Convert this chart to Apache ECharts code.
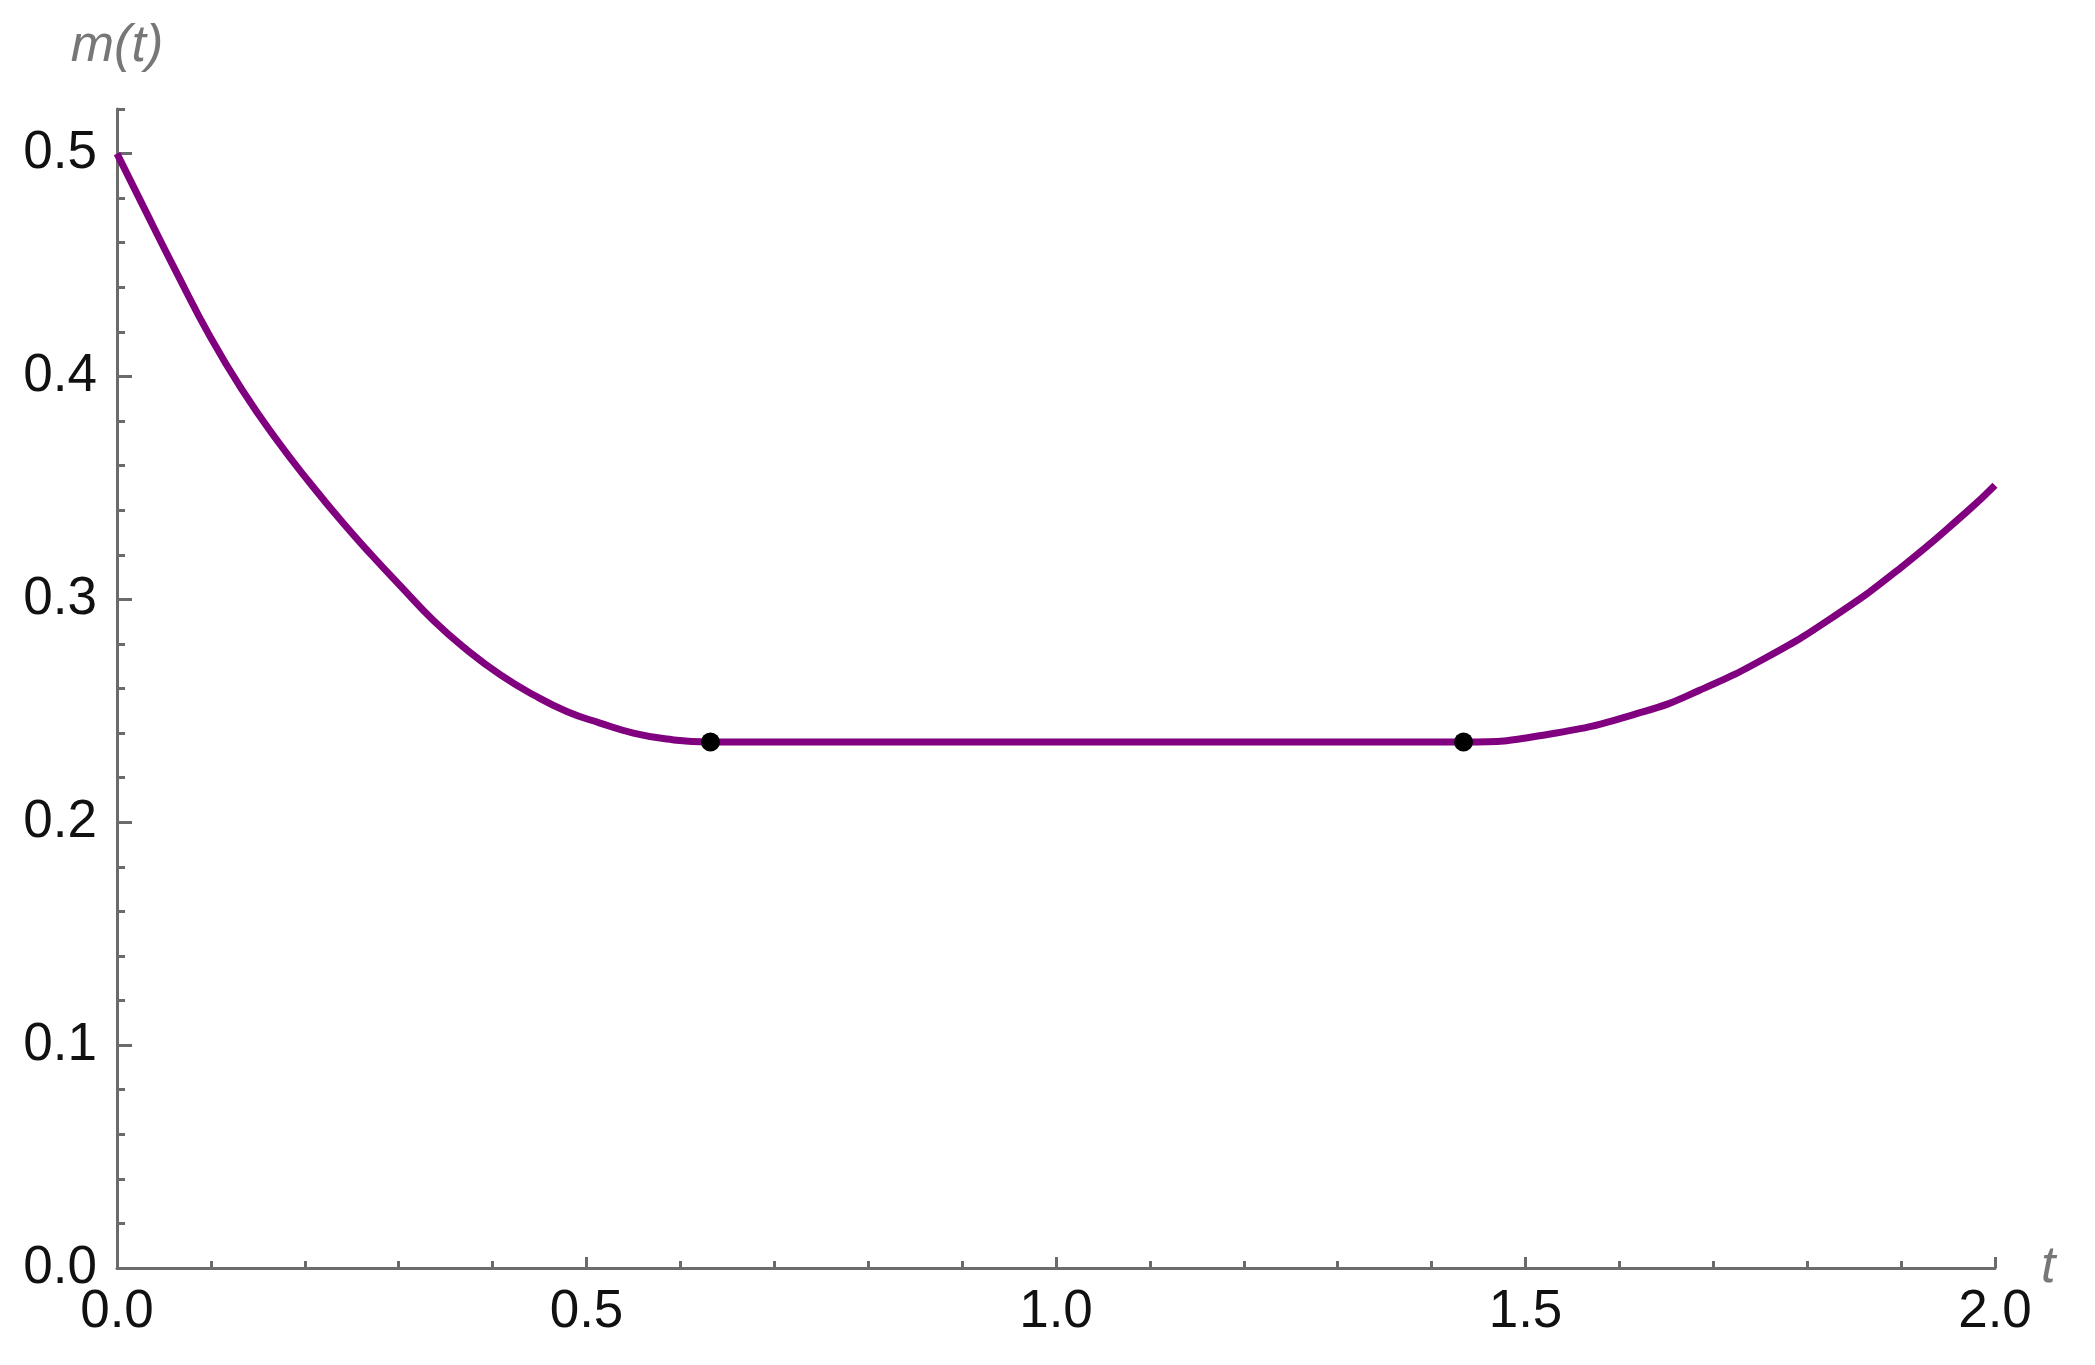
<!DOCTYPE html>
<html>
<head>
<meta charset="utf-8">
<script src="https://cdn.jsdelivr.net/npm/echarts@6/dist/echarts.min.js"></script>
<style>
  html, body { margin: 0; padding: 0; background: #fff; }
  #chart { width: 2095px; height: 1365px; }
</style>
</head>
<body>
<div id="chart"></div>
<script>
// curve m(t)
const tVals = [0, 0.028, 0.0636, 0.099, 0.1345, 0.17, 0.2055, 0.241, 0.273, 0.301, 0.337, 0.3724,
  0.408, 0.4433, 0.479, 0.5144, 0.55, 0.5854, 0.632, 0.7, 1.0, 1.36, 1.434,
  1.525, 1.625, 1.686, 1.757, 1.828, 1.899, 1.97, 2.0];
const mVals = [0.5, 0.4763, 0.4465, 0.418, 0.3932, 0.3716, 0.3522, 0.3341, 0.319, 0.3064, 0.2905, 0.2774,
  0.2662, 0.2572, 0.2497, 0.2445, 0.24, 0.2373, 0.236, 0.236, 0.236, 0.236, 0.236,
  0.2395, 0.2495, 0.2593, 0.274, 0.2922, 0.314, 0.3393, 0.3512];

// the two black points where the flat part starts and ends
const knotT = [0.632, 1.434];
const knotM = [0.236, 0.236];

// tick labels
const xTicks = [0, 0.5, 1.0, 1.5, 2.0];
const yTicks = [0, 0.1, 0.2, 0.3, 0.4, 0.5];

const xMinor = [];
for (let i = 0; i <= 20; i += 1) xMinor.push(+(i * 0.1).toFixed(2));
const yMinor = [];
for (let i = 0; i <= 26; i += 1) yMinor.push(+(i * 0.02).toFixed(2));

const axisGray = '#6b6b6b';
const font = 'Liberation Sans';

const chart = echarts.init(document.getElementById('chart'));

chart.setOption({
  animation: false,
  backgroundColor: '#fff',
  grid: { left: 117, right: 100, top: 109, bottom: 97 },
  xAxis: [
    {
      type: 'value',
      min: 0,
      max: 2,
      name: 't',
      nameLocation: 'end',
      nameGap: 46,
      nameTextStyle: { fontFamily: font, fontStyle: 'italic', fontSize: 52, color: '#777' },
      axisLine: { show: true, onZero: false, lineStyle: { color: axisGray, width: 3 } },
      axisTick: { show: true, inside: true, length: 11, customValues: xTicks, lineStyle: { color: axisGray, width: 3 } },
      axisLabel: {
        customValues: xTicks,
        margin: 18,
        fontFamily: font,
        fontSize: 53,
        color: '#111',
        formatter: (v) => v.toFixed(1),
      },
      splitLine: { show: false },
    },
    {
      // minor ticks only
      type: 'value',
      min: 0,
      max: 2,
      position: 'bottom',
      axisLine: { show: false },
      axisTick: { show: true, inside: true, length: 7, customValues: xMinor, lineStyle: { color: axisGray, width: 3 } },
      axisLabel: { show: false },
      splitLine: { show: false },
    },
  ],
  yAxis: [
    {
      type: 'value',
      min: 0,
      max: 0.52,
      name: 'm(t)',
      nameLocation: 'end',
      nameGap: 36,
      nameTextStyle: { fontFamily: font, fontStyle: 'italic', fontSize: 52, color: '#777', align: 'center' },
      axisLine: { show: true, onZero: false, lineStyle: { color: axisGray, width: 3 } },
      axisTick: { show: true, inside: true, length: 15, customValues: yTicks, lineStyle: { color: axisGray, width: 3 } },
      axisLabel: {
        customValues: yTicks,
        margin: 20,
        fontFamily: font,
        fontSize: 53,
        color: '#111',
        formatter: (v) => v.toFixed(1),
      },
      splitLine: { show: false },
    },
    {
      // minor ticks only
      type: 'value',
      min: 0,
      max: 0.52,
      position: 'left',
      axisLine: { show: false },
      axisTick: { show: true, inside: true, length: 8, customValues: yMinor, lineStyle: { color: axisGray, width: 3 } },
      axisLabel: { show: false },
      splitLine: { show: false },
    },
  ],
  series: [
    {
      type: 'line',
      data: tVals.map((t, i) => [t, mVals[i]]),
      smooth: 0.5,
      showSymbol: false,
      lineStyle: { color: '#800080', width: 7 },
      z: 2,
    },
    {
      type: 'scatter',
      data: knotT.map((t, i) => [t, knotM[i]]),
      symbol: 'circle',
      symbolSize: 19,
      itemStyle: { color: '#000', opacity: 1 },
      z: 3,
    },
  ],
});
</script>
</body>
</html>
